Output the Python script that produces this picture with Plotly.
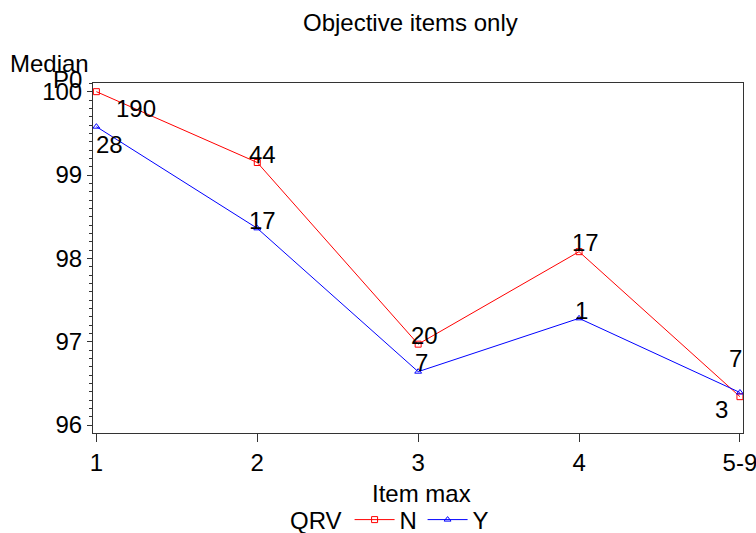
import plotly.graph_objects as go

# Categories of "Item max" and their axis positions
categories = ["1", "2", "3", "4", "5-9"]
x_pos = [1, 2, 3, 4, 5]

# Median P0 per group
p0_n = [100.0, 99.15, 96.97, 98.08, 96.34]
p0_y = [99.58, 98.36, 96.64, 97.28, 96.39]

# Number of items behind each median
count_n = [190, 44, 20, 17, 3]
count_y = [28, 17, 7, 1, 7]

# Pixel offsets of the count labels relative to their points
off_n = [(40, -17), (5, 8), (6, 9), (6, 9), (-18, -13)]
off_y = [(13, -18), (5, 8), (3, 9), (2, 8), (-4, 34)]

FONT = "Liberation Sans, Arial, sans-serif"
FS = 24
L, R, T, B = 93, 13, 83, 100
PW = 756 - L - R


def txt(s, x, y, **kw):
    return dict(text=s, x=x, y=y, showarrow=False,
                font=dict(family=FONT, size=FS, color="black"), **kw)


fig = go.Figure()
fig.add_trace(go.Scatter(
    x=x_pos, y=p0_n, name="N", mode="lines+markers",
    line=dict(color="#ff0000", width=1),
    marker=dict(symbol="square-open", size=6, color="#ff0000", line=dict(width=1)),
))
fig.add_trace(go.Scatter(
    x=x_pos, y=p0_y, name="Y", mode="lines+markers",
    line=dict(color="#0000ff", width=1),
    marker=dict(symbol="triangle-up-open", size=6, color="#0000ff", line=dict(width=1)),
))

annotations = []
for ys, cs, offs in [(p0_n, count_n, off_n), (p0_y, count_y, off_y)]:
    for xv, yv, c, (dx, dy) in zip(x_pos, ys, cs, offs):
        annotations.append(txt(str(c), xv, yv, xref="x", yref="y",
                               xanchor="center", yanchor="middle",
                               xshift=dx, yshift=dy))

# Title and axis titles
annotations += [
    txt("Objective items only", (410 - L) / PW, 1, xref="paper", yref="paper",
        xanchor="center", yanchor="middle", yshift=T - 22),
    txt("Item max", (421 - L) / PW, 0, xref="paper", yref="paper",
        xanchor="center", yanchor="middle", yshift=-(493 - (533 - B))),
    txt("Median", (49 - L) / PW, 1, xref="paper", yref="paper",
        xanchor="center", yanchor="middle", yshift=T - 63),
    txt("P0", (67 - L) / PW, 1, xref="paper", yref="paper",
        xanchor="center", yanchor="middle", yshift=T - 79.5),
]

fig.update_layout(
    width=756, height=533,
    margin=dict(l=L, r=R, t=T, b=B, autoexpand=False),
    paper_bgcolor="white", plot_bgcolor="white",
    font=dict(family=FONT, size=FS, color="black"),
    showlegend=True,
    legend=dict(
        orientation="h", x=(288 - L) / PW, y=-(520 - (533 - B)) / (533 - T - B),
        xanchor="left", yanchor="middle",
        title=dict(text="QRV", side="left", font=dict(size=FS)),
        font=dict(size=FS), itemwidth=40, entrywidth=18, entrywidthmode="pixels",
        tracegroupgap=0, bgcolor="rgba(0,0,0,0)",
    ),
    annotations=annotations,
    xaxis=dict(
        range=[0.979, 5.019], tickmode="array", tickvals=x_pos, ticktext=categories,
        showline=True, mirror=True, linecolor="#333", linewidth=1,
        ticks="outside", ticklen=8, tickcolor="#333", showgrid=False, zeroline=False,
        tickfont=dict(size=FS), ticklabeloverflow="allow",
    ),
    yaxis=dict(
        range=[95.904, 100.104], tickmode="array", tickvals=[96, 97, 98, 99, 100],
        showline=True, mirror=True, linecolor="#333", linewidth=1,
        ticks="outside", ticklen=5, tickcolor="#333", showgrid=False, zeroline=False,
        tickfont=dict(size=FS),
        minor=dict(dtick=0.1, ticks="outside", ticklen=3, tickcolor="#333", showgrid=False),
    ),
)

fig.write_html("out.html")
